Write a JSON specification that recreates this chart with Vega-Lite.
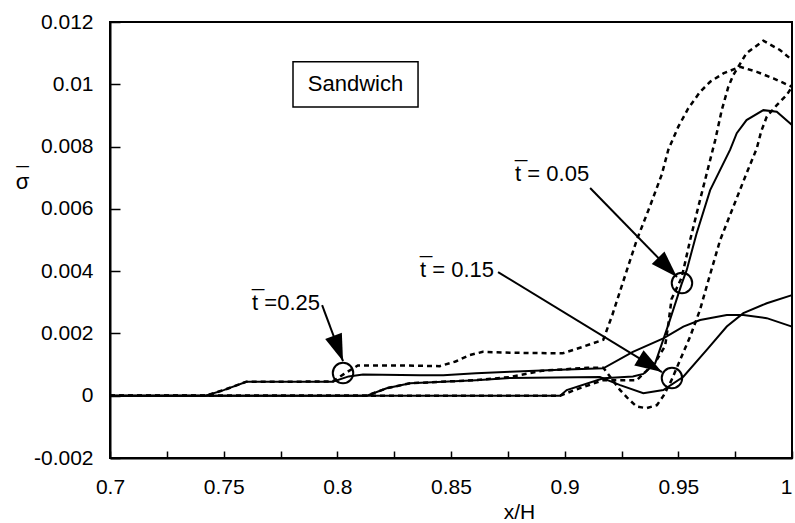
{
  "$schema": "https://vega.github.io/schema/vega-lite/v6.json",
  "width": 682,
  "height": 436,
  "autosize": {"type": "none"},
  "padding": {"left": 110, "top": 22, "right": 3, "bottom": 65},
  "background": "white",
  "config": {"view": {"stroke": "black", "strokeWidth": 2}, "font": "Liberation Sans"},
  "datasets": {
    "curves": [
      {"s":"D25","x":0.700,"y":0},{"s":"D25","x":0.742,"y":0},{"s":"D25","x":0.750,"y":0.00018},{"s":"D25","x":0.760,"y":0.00045},{"s":"D25","x":0.780,"y":0.00045},{"s":"D25","x":0.798,"y":0.00046},{"s":"D25","x":0.803,"y":0.0007},{"s":"D25","x":0.809,"y":0.00097},{"s":"D25","x":0.830,"y":0.00097},{"s":"D25","x":0.845,"y":0.00095},{"s":"D25","x":0.852,"y":0.0011},{"s":"D25","x":0.858,"y":0.0013},{"s":"D25","x":0.864,"y":0.00141},{"s":"D25","x":0.876,"y":0.00138},{"s":"D25","x":0.899,"y":0.00136},{"s":"D25","x":0.908,"y":0.00157},{"s":"D25","x":0.917,"y":0.0018},{"s":"D25","x":0.921,"y":0.0026},{"s":"D25","x":0.925,"y":0.0035},{"s":"D25","x":0.9317,"y":0.005},{"s":"D25","x":0.9376,"y":0.0061},{"s":"D25","x":0.9427,"y":0.0071},{"s":"D25","x":0.9456,"y":0.0079},{"s":"D25","x":0.950,"y":0.00864},{"s":"D25","x":0.9544,"y":0.00923},{"s":"D25","x":0.9596,"y":0.00976},{"s":"D25","x":0.964,"y":0.01008},{"s":"D25","x":0.9698,"y":0.01035},{"s":"D25","x":0.9772,"y":0.01056},{"s":"D25","x":0.9845,"y":0.0104},{"s":"D25","x":0.9918,"y":0.01019},{"s":"D25","x":1.0,"y":0.00992},
      {"s":"S25","x":0.700,"y":0},{"s":"S25","x":0.742,"y":0},{"s":"S25","x":0.750,"y":0.00018},{"s":"S25","x":0.760,"y":0.00045},{"s":"S25","x":0.780,"y":0.00045},{"s":"S25","x":0.798,"y":0.00045},{"s":"S25","x":0.805,"y":0.00062},{"s":"S25","x":0.8113,"y":0.00068},{"s":"S25","x":0.8364,"y":0.00066},{"s":"S25","x":0.8466,"y":0.00066},{"s":"S25","x":0.861,"y":0.00072},{"s":"S25","x":0.876,"y":0.00077},{"s":"S25","x":0.898,"y":0.00083},{"s":"S25","x":0.917,"y":0.00088},{"s":"S25","x":0.930,"y":0.00141},{"s":"S25","x":0.9434,"y":0.00184},{"s":"S25","x":0.9522,"y":0.00222},{"s":"S25","x":0.9596,"y":0.00243},{"s":"S25","x":0.9713,"y":0.00259},{"s":"S25","x":0.9786,"y":0.00259},{"s":"S25","x":0.9889,"y":0.00249},{"s":"S25","x":1.0,"y":0.00222},
      {"s":"D15","x":0.700,"y":0},{"s":"D15","x":0.813,"y":0},{"s":"D15","x":0.8217,"y":0.00024},{"s":"D15","x":0.832,"y":0.0004},{"s":"D15","x":0.861,"y":0.0005},{"s":"D15","x":0.876,"y":0.0006},{"s":"D15","x":0.890,"y":0.0008},{"s":"D15","x":0.910,"y":0.0009},{"s":"D15","x":0.917,"y":0.0009},{"s":"D15","x":0.9244,"y":0.00018},{"s":"D15","x":0.928,"y":-0.0001},{"s":"D15","x":0.9317,"y":-0.00035},{"s":"D15","x":0.936,"y":-0.0004},{"s":"D15","x":0.9406,"y":-0.0003},{"s":"D15","x":0.9435,"y":0.0},{"s":"D15","x":0.947,"y":0.0005},{"s":"D15","x":0.9508,"y":0.00115},{"s":"D15","x":0.9552,"y":0.0019},{"s":"D15","x":0.9595,"y":0.00275},{"s":"D15","x":0.9632,"y":0.0037},{"s":"D15","x":0.9684,"y":0.005},{"s":"D15","x":0.9742,"y":0.00607},{"s":"D15","x":0.980,"y":0.00714},{"s":"D15","x":0.9845,"y":0.00794},{"s":"D15","x":0.9865,"y":0.0085},{"s":"D15","x":0.9889,"y":0.00896},{"s":"D15","x":0.9933,"y":0.00933},{"s":"D15","x":0.9977,"y":0.00966},{"s":"D15","x":1.0,"y":0.00992},
      {"s":"S15","x":0.700,"y":0},{"s":"S15","x":0.813,"y":0},{"s":"S15","x":0.8217,"y":0.00024},{"s":"S15","x":0.832,"y":0.0004},{"s":"S15","x":0.861,"y":0.0005},{"s":"S15","x":0.876,"y":0.00057},{"s":"S15","x":0.9155,"y":0.0006},{"s":"S15","x":0.9244,"y":0.00034},{"s":"S15","x":0.9346,"y":0.00008},{"s":"S15","x":0.9434,"y":0.00018},{"s":"S15","x":0.9522,"y":0.00061},{"s":"S15","x":0.9625,"y":0.00147},{"s":"S15","x":0.9713,"y":0.00222},{"s":"S15","x":0.9786,"y":0.00265},{"s":"S15","x":0.9889,"y":0.00297},{"s":"S15","x":1.0,"y":0.00323},
      {"s":"D05","x":0.700,"y":0},{"s":"D05","x":0.898,"y":0},{"s":"D05","x":0.905,"y":0.0002},{"s":"D05","x":0.917,"y":0.0005},{"s":"D05","x":0.925,"y":0.0005},{"s":"D05","x":0.9317,"y":0.0005},{"s":"D05","x":0.936,"y":0.0008},{"s":"D05","x":0.9405,"y":0.00115},{"s":"D05","x":0.9442,"y":0.0016},{"s":"D05","x":0.9456,"y":0.0023},{"s":"D05","x":0.947,"y":0.0031},{"s":"D05","x":0.9515,"y":0.0038},{"s":"D05","x":0.9552,"y":0.005},{"s":"D05","x":0.9588,"y":0.00607},{"s":"D05","x":0.9625,"y":0.00714},{"s":"D05","x":0.9662,"y":0.0082},{"s":"D05","x":0.9691,"y":0.00917},{"s":"D05","x":0.972,"y":0.00992},{"s":"D05","x":0.9742,"y":0.0103},{"s":"D05","x":0.980,"y":0.011},{"s":"D05","x":0.9874,"y":0.0114},{"s":"D05","x":0.9947,"y":0.0111},{"s":"D05","x":1.0,"y":0.01078},
      {"s":"S05","x":0.700,"y":0},{"s":"S05","x":0.898,"y":0},{"s":"S05","x":0.9009,"y":0.00018},{"s":"S05","x":0.917,"y":0.00056},{"s":"S05","x":0.930,"y":0.00062},{"s":"S05","x":0.9346,"y":0.0007},{"s":"S05","x":0.9398,"y":0.00104},{"s":"S05","x":0.9457,"y":0.0023},{"s":"S05","x":0.9515,"y":0.0036},{"s":"S05","x":0.9537,"y":0.00404},{"s":"S05","x":0.958,"y":0.0052},{"s":"S05","x":0.964,"y":0.0066},{"s":"S05","x":0.9728,"y":0.0079},{"s":"S05","x":0.9757,"y":0.00843},{"s":"S05","x":0.980,"y":0.00885},{"s":"S05","x":0.9874,"y":0.00917},{"s":"S05","x":0.9933,"y":0.00912},{"s":"S05","x":1.0,"y":0.00869}
    ],
    "arrows": [
      {"x":0.7933,"y":0.00291,"x2":0.8025,"y2":0.00111},
      {"x":0.8707,"y":0.00397,"x2":0.9428,"y2":0.00076},
      {"x":0.9112,"y":0.00667,"x2":0.9494,"y2":0.00381}
    ],
    "heads": [
      {"x":0.8025,"y":0.00111,"angle":-20.6},
      {"x":0.9428,"y":0.00076,"angle":-58.6},
      {"x":0.9494,"y":0.00381,"angle":-44.3}
    ],
    "circles": [
      {"x":0.8025,"y":0.00073},
      {"x":0.9472,"y":0.00057},
      {"x":0.9516,"y":0.00362}
    ],
    "labels": [
      {"label":"_\nt =0.25","x":0.7625,"y":0.00352},
      {"label":"_\nt = 0.15","x":0.8364,"y":0.00459},
      {"label":"_\nt = 0.05","x":0.8782,"y":0.00768}
    ],
    "box": [
      {"x":0.7805,"x2":0.8355,"y":0.00927,"y2":0.01072},
      {"x":0.8080,"y":0.0100,"label":"Sandwich"}
    ]
  },
  "layer": [
    {
      "data": {"name": "curves"},
      "transform": [{"filter": "indexof(['S25','S15','S05'], datum.s) >= 0"}],
      "mark": {"type": "line", "color": "black", "strokeWidth": 2},
      "encoding": {
        "x": {"field": "x", "type": "quantitative",
          "scale": {"domain": [0.7, 1.0], "nice": false, "zero": false},
          "axis": {
            "values": [0.7,0.725,0.75,0.775,0.8,0.825,0.85,0.875,0.9,0.925,0.95,0.975,1.0],
            "labelExpr": "abs(round(datum.value*40))%2==0 ? format(datum.value,'~g') : ''",
            "tickSize": -7, "labelPadding": 25, "tickColor": "black", "tickWidth": 1.5,
            "domainColor": "black", "domainWidth": 2, "grid": false,
            "labelFont": "Liberation Sans", "labelFontSize": 21, "labelColor": "black",
            "labelFlush": false, "labelOverlap": false, "labelBound": false,
            "labelAlign": {"condition": {"test": "datum.value >= 0.999", "value": "right"}, "value": "center"},
            "encode": {
              "ticks": {"update": {"y2": {"signal": "abs(round(datum.value*40))%2==0 ? -8 : -5"}}}
            },
            "title": "x/H", "titleFont": "Liberation Sans", "titleFontSize": 21, "titleFontWeight": "normal",
            "titleColor": "black", "titleX": 409, "titleY": 54, "titleBaseline": "middle", "titleAlign": "center"
          }
        },
        "y": {"field": "y", "type": "quantitative",
          "scale": {"domain": [-0.002, 0.012], "nice": false, "zero": false},
          "axis": {
            "values": [-0.002,-0.001,0,0.001,0.002,0.003,0.004,0.005,0.006,0.007,0.008,0.009,0.01,0.011,0.012],
            "labelExpr": "round(datum.value*1000)%2==0 ? (datum.value<0 ? '-' : '') + format(abs(datum.value),'~g') : ''",
            "tickSize": -10, "labelPadding": 27, "tickColor": "black", "tickWidth": 1.5,
            "domainColor": "black", "domainWidth": 2, "grid": false,
            "labelFont": "Liberation Sans", "labelFontSize": 21, "labelColor": "black",
            "labelFlush": false, "labelOverlap": false, "labelBound": false,
            "title": ["_", "σ"], "titleFont": "Liberation Sans", "titleFontSize": 22, "titleFontWeight": "normal",
            "titleLineHeight": 26,
            "titleColor": "black", "titleAngle": 0, "titleX": -88, "titleY": 140,
            "titleBaseline": "alphabetic", "titleAlign": "center"
          }
        },
        "detail": {"field": "s"}
      }
    },
    {
      "data": {"name": "curves"},
      "transform": [{"filter": "indexof(['D25','D15','D05'], datum.s) >= 0"}],
      "mark": {"type": "line", "color": "black", "strokeWidth": 2.5, "strokeDash": [5, 4]},
      "encoding": {
        "x": {"field": "x", "type": "quantitative"},
        "y": {"field": "y", "type": "quantitative"},
        "detail": {"field": "s"}
      }
    },
    {
      "mark": {"type": "rule", "color": "black", "strokeWidth": 2},
      "encoding": {"y": {"datum": 0, "type": "quantitative"}}
    },
    {
      "data": {"name": "box"},
      "transform": [{"filter": "datum.x2 != null"}],
      "mark": {"type": "rect", "fill": "white", "fillOpacity": 0, "stroke": "black", "strokeWidth": 1.5},
      "encoding": {
        "x": {"field": "x", "type": "quantitative"},
        "x2": {"field": "x2"},
        "y": {"field": "y", "type": "quantitative"},
        "y2": {"field": "y2"}
      }
    },
    {
      "data": {"name": "box"},
      "transform": [{"filter": "datum.label != null"}],
      "mark": {"type": "text", "font": "Liberation Sans", "fontSize": 22, "color": "black", "align": "center", "baseline": "middle"},
      "encoding": {
        "x": {"field": "x", "type": "quantitative"},
        "y": {"field": "y", "type": "quantitative"},
        "text": {"field": "label"}
      }
    },
    {
      "data": {"name": "arrows"},
      "mark": {"type": "rule", "color": "black", "strokeWidth": 2},
      "encoding": {
        "x": {"field": "x", "type": "quantitative"},
        "x2": {"field": "x2"},
        "y": {"field": "y", "type": "quantitative"},
        "y2": {"field": "y2"}
      }
    },
    {
      "data": {"name": "heads"},
      "mark": {"type": "point", "shape": "M0,0 L-0.33,-1 L0.33,-1 Z", "filled": true, "color": "black", "size": 2916, "opacity": 1},
      "encoding": {
        "x": {"field": "x", "type": "quantitative"},
        "y": {"field": "y", "type": "quantitative"},
        "angle": {"field": "angle", "type": "quantitative", "scale": null}
      }
    },
    {
      "data": {"name": "circles"},
      "mark": {"type": "point", "shape": "circle", "filled": false, "color": "black", "strokeWidth": 2, "size": 420, "opacity": 1},
      "encoding": {
        "x": {"field": "x", "type": "quantitative"},
        "y": {"field": "y", "type": "quantitative"}
      }
    },
    {
      "data": {"name": "labels"},
      "mark": {"type": "text", "font": "Liberation Sans", "fontSize": 22, "color": "black", "align": "left", "baseline": "alphabetic", "lineBreak": "\n", "lineHeight": 24},
      "encoding": {
        "x": {"field": "x", "type": "quantitative"},
        "y": {"field": "y", "type": "quantitative"},
        "text": {"field": "label"}
      }
    }
  ]
}
